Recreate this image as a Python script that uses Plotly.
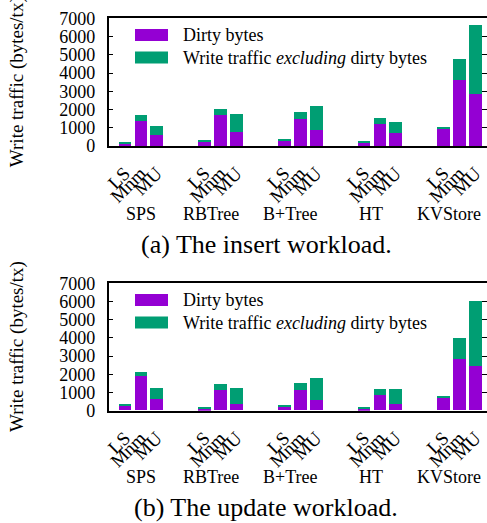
import plotly.graph_objects as go

systems = ["SPS", "RBTree", "B+Tree", "HT", "KVStore"]
variants = ["LS", "Mnm", "MU"]

insert_dirty = [130, 1370, 600, 240, 1700, 770, 270, 1480, 880, 165, 1210, 710, 930, 3620, 2850]
insert_other = [90, 330, 500, 40, 330, 985, 60, 385, 1315, 55, 325, 605, 60, 1150, 3785]
update_dirty = [255, 1905, 640, 90, 1135, 365, 200, 1135, 585, 90, 860, 365, 695, 2840, 2455]
update_other = [55, 220, 605, 55, 330, 880, 55, 385, 1210, 55, 330, 825, 55, 1155, 3570]

y_ticks = [0, 1000, 2000, 3000, 4000, 5000, 6000, 7000]
captions = ["(a) The insert workload.", "(b) The update workload."]
series_names = ["Dirty bytes", "Write traffic <i>excluding</i> dirty bytes"]

PURPLE = "#9400D3"
GREEN = "#009E73"
FONT = "Liberation Serif"
W, H = 487, 523

xpos = [g * 5 + i for g in range(len(systems)) for i in range(len(variants))]
xtext = [v for _ in systems for v in variants]

fig = go.Figure()
panels = [(insert_dirty, insert_other, "x", "y"), (update_dirty, update_other, "x2", "y2")]
for dirty, other, xa, ya in panels:
    fig.add_trace(go.Bar(x=xpos, y=dirty, name=series_names[0], marker=dict(color=PURPLE, line=dict(width=0)),
                         width=0.8, xaxis=xa, yaxis=ya, showlegend=False))
    fig.add_trace(go.Bar(x=xpos, y=other, name=series_names[1], marker=dict(color=GREEN, line=dict(width=0)),
                         width=0.8, xaxis=xa, yaxis=ya, showlegend=False))

def px_to_paper_y(py):
    return 1 - py / H

left_px = 108.7
slot_px = 16.0
x_end = -1 + (W + 1.5 - left_px) / slot_px
xdom = [left_px / W, 1.0]

top_doms = [(18.3, 146.0), (283.3, 410.7)]
axis_common_x = dict(range=[-1, x_end], tickvals=xpos, ticktext=xtext, tickangle=-45,
                     showline=True, linecolor="black", linewidth=1.5, mirror=True, automargin=False,
                     ticks="", showgrid=False, zeroline=False,
                     tickfont=dict(family=FONT, size=19, color="black"), ticklabelstandoff=7)
axis_common_y = dict(range=[0, 7000], tickvals=y_ticks, showline=True, linecolor="black", linewidth=1.5,
                     mirror="ticks", ticks="inside", ticklen=5, tickcolor="black", tickwidth=1,
                     showgrid=False, zeroline=False, ticklabelstandoff=8, automargin=False,
                     tickfont=dict(family=FONT, size=18, color="black"))

layout = dict(width=W, height=H, margin=dict(l=0, r=0, t=0, b=0, autoexpand=False), barmode="stack",
              plot_bgcolor="white", paper_bgcolor="white", bargap=0, template="none")
for k, (t, b) in enumerate(top_doms):
    sfx = "" if k == 0 else "2"
    layout["xaxis" + sfx] = dict(axis_common_x, domain=xdom, anchor="y" + sfx)
    layout["yaxis" + sfx] = dict(axis_common_y, domain=[px_to_paper_y(b), px_to_paper_y(t)], anchor="x" + sfx)
fig.update_layout(**layout)

annotations = []
shapes = []
group_label_y = [214, 477]
group_label_shift = [0, -9, -9, -9, -10]
caption_y = [244, 507]
legend_y = [(35, 57.5), (300, 322.5)]
for k, (t, b) in enumerate(top_doms):
    # y-axis title
    annotations.append(dict(x=17 / W, y=px_to_paper_y((t + b) / 2), xref="paper", yref="paper",
                            text="Write traffic (bytes/tx)", textangle=-90, showarrow=False,
                            font=dict(family=FONT, size=19, color="black"), xanchor="center", yanchor="middle"))
    # group labels
    for g, s in enumerate(systems):
        annotations.append(dict(x=g * 5 + 1, y=px_to_paper_y(group_label_y[k]), xshift=group_label_shift[g],
                                xref="x" if k == 0 else "x2", yref="paper", text=s, showarrow=False,
                                font=dict(family=FONT, size=18, color="black"), xanchor="center", yanchor="middle"))
    # caption
    annotations.append(dict(x=266 / W, y=px_to_paper_y(caption_y[k]), xref="paper", yref="paper",
                            text=captions[k], showarrow=False,
                            font=dict(family=FONT, size=26, color="black"), xanchor="center", yanchor="middle"))
    # legend
    for j, (name, col) in enumerate(zip(series_names, [PURPLE, GREEN])):
        cy = legend_y[k][j]
        shapes.append(dict(type="rect", xref="paper", yref="paper",
                           x0=135 / W, x1=168 / W, y0=px_to_paper_y(cy + 6), y1=px_to_paper_y(cy - 6),
                           fillcolor=col, line=dict(width=0)))
        annotations.append(dict(x=181 / W, y=px_to_paper_y(cy), xref="paper", yref="paper", text=name,
                                showarrow=False, font=dict(family=FONT, size=18, color="black"),
                                xanchor="left", yanchor="middle"))
fig.update_layout(annotations=annotations, shapes=shapes)

fig.write_html("out.html", config={"displayModeBar": False},
               post_script="document.body.style.margin='0';document.body.style.overflow='hidden';")
